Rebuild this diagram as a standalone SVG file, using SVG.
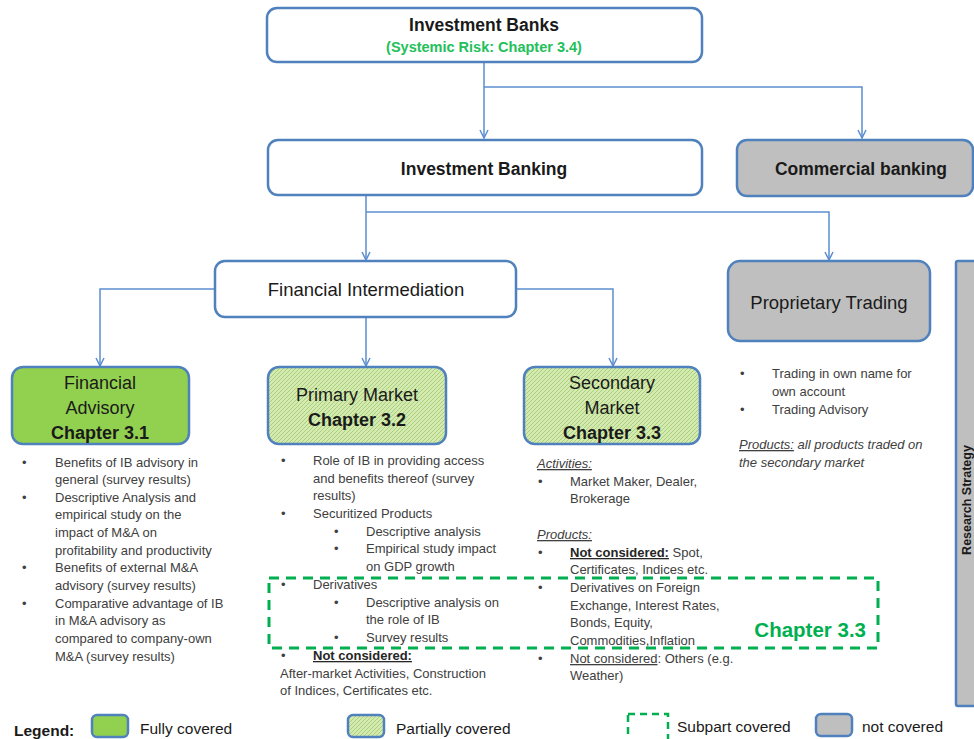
<svg xmlns="http://www.w3.org/2000/svg" width="974" height="739" viewBox="0 0 974 739">
<defs>
<pattern id="hatch" patternUnits="userSpaceOnUse" width="4" height="4">
<rect width="4" height="4" fill="#d4eab0"/>
<path d="M-1,1 L1,-1 M0,4 L4,0 M3,5 L5,3" stroke="#a8d07a" stroke-width="1"/>
</pattern>
<marker id="arr" markerWidth="10" markerHeight="10" refX="9" refY="5" orient="auto" markerUnits="userSpaceOnUse">
<path d="M1,1 L9,5 L1,9" fill="none" stroke="#5b8ed0" stroke-width="1.5"/>
</marker>
</defs>
<style>
.box{stroke:#4f81bd;stroke-width:2.5}
.w{fill:#fff}
.g{fill:#bfbfbf}
.full{fill:#92d050}
.part{fill:url(#hatch)}
.conn{fill:none;stroke:#5b8ed0;stroke-width:1.5}
.t{font-family:"Liberation Sans",Arial,sans-serif;fill:#1a1a1a;text-anchor:middle}
.b{font-weight:bold}
.bl{font-family:"Liberation Sans",Arial,sans-serif;font-size:13px;fill:#404040}
.dash{fill:none;stroke:#00b050;stroke-width:3;stroke-dasharray:10 7}
.lg{font-family:"Liberation Sans",Arial,sans-serif;font-size:15.5px;fill:#1a1a1a}
</style>
<g id="connectors">
<path class="conn" d="M484,62 V138" marker-end="url(#arr)"/>
<path class="conn" d="M484,87 H862 V138" marker-end="url(#arr)"/>
<path class="conn" d="M366,195 V260" marker-end="url(#arr)"/>
<path class="conn" d="M366,212 H829 V260" marker-end="url(#arr)"/>
<path class="conn" d="M215,289 H100 V366" marker-end="url(#arr)"/>
<path class="conn" d="M366,317 V366" marker-end="url(#arr)"/>
<path class="conn" d="M516,289 H613 V366" marker-end="url(#arr)"/>
</g>
<g id="investment-banks">
<rect class="box w" x="267" y="8" width="435" height="54" rx="10"/>
<text class="t b" x="484" y="31" font-size="17.5">Investment Banks</text>
<text class="t b" x="484" y="52" font-size="14.5" style="fill:#22c05a">(Systemic Risk: Chapter 3.4)</text>
</g>
<g id="investment-banking">
<rect class="box w" x="268" y="140" width="434" height="55" rx="10"/>
<text class="t b" x="484" y="175" font-size="17.5">Investment Banking</text>
</g>
<g id="commercial-banking">
<rect class="box g" x="737" y="140" width="236" height="56" rx="10"/>
<text class="t b" x="861" y="175" font-size="17.5">Commercial banking</text>
</g>
<g id="financial-intermediation">
<rect class="box w" x="215" y="261" width="301" height="56" rx="10"/>
<text class="t" x="366" y="296" font-size="18.5">Financial Intermediation</text>
</g>
<g id="proprietary-trading">
<rect class="box g" x="728" y="261" width="202" height="80" rx="12"/>
<text class="t" x="829" y="309" font-size="18.5">Proprietary Trading</text>
</g>
<g id="research-strategy">
<rect class="box g" x="956" y="261" width="40" height="445" rx="2"/>
<text class="t b" font-size="12.5" transform="translate(971,500) rotate(-90)">Research  Strategy</text>
</g>
<g id="financial-advisory">
<rect class="box full" x="12" y="367" width="177" height="77" rx="11"/>
<text class="t" x="100" y="389" font-size="18">Financial</text>
<text class="t" x="100" y="414" font-size="18">Advisory</text>
<text class="t b" x="100" y="439" font-size="18">Chapter 3.1</text>
</g>
<g id="primary-market">
<rect class="box part" x="268" y="367" width="178" height="77" rx="11"/>
<text class="t" x="357" y="401" font-size="18">Primary Market</text>
<text class="t b" x="357" y="426" font-size="18">Chapter 3.2</text>
</g>
<g id="secondary-market">
<rect class="box part" x="524" y="367" width="176" height="77" rx="11"/>
<text class="t" x="612" y="389" font-size="18">Secondary</text>
<text class="t" x="612" y="414" font-size="18">Market</text>
<text class="t b" x="612" y="439" font-size="18">Chapter 3.3</text>
</g>
<g id="subpart-box">
<rect class="dash" x="269" y="578" width="609" height="70"/>
<text x="866" y="637" font-family="Liberation Sans,Arial,sans-serif" font-size="20.5" font-weight="bold" fill="#00b050" text-anchor="end">Chapter 3.3</text>
</g>
<g id="fa-text" class="bl">
<text x="22" y="467">•</text><text x="55" y="467">Benefits of IB advisory in</text>
<text x="55" y="484">general (survey results)</text>
<text x="22" y="502">•</text><text x="55" y="502">Descriptive Analysis and</text>
<text x="55" y="519">empirical study on the</text>
<text x="55" y="537">impact of M&amp;A on</text>
<text x="55" y="555">profitability and productivity</text>
<text x="22" y="572">•</text><text x="55" y="572">Benefits of external M&amp;A</text>
<text x="55" y="590">advisory (survey results)</text>
<text x="22" y="608">•</text><text x="55" y="608">Comparative advantage of IB</text>
<text x="55" y="625">in M&amp;A advisory as</text>
<text x="55" y="643">compared to company-own</text>
<text x="55" y="661">M&amp;A (survey results)</text>
</g>
<g id="pm-text" class="bl">
<text x="281" y="465">•</text><text x="313" y="465">Role of IB in providing access</text>
<text x="313" y="483">and benefits thereof (survey</text>
<text x="313" y="500">results)</text>
<text x="281" y="518">•</text><text x="313" y="518">Securitized Products</text>
<text x="334" y="536">•</text><text x="366" y="536">Descriptive analysis</text>
<text x="334" y="553">•</text><text x="366" y="553">Empirical study impact</text>
<text x="366" y="571">on GDP growth</text>
<text x="281" y="589">•</text><text x="313" y="589">Derivatives</text>
<text x="334" y="607">•</text><text x="366" y="607">Descriptive analysis on</text>
<text x="366" y="624">the role of IB</text>
<text x="334" y="642">•</text><text x="366" y="642">Survey results</text>
<text x="281" y="660">•</text><text x="313" y="660" font-weight="bold" text-decoration="underline" fill="#262626">Not considered:</text>
<text x="280" y="678">After-market Activities, Construction</text>
<text x="280" y="695">of Indices, Certificates etc.</text>
</g>
<g id="sm-text" class="bl">
<text x="537" y="468" font-style="italic" text-decoration="underline">Activities:</text>
<text x="538" y="486">•</text><text x="570" y="486">Market Maker, Dealer,</text>
<text x="570" y="503">Brokerage</text>
<text x="537" y="539" font-style="italic" text-decoration="underline">Products:</text>
<text x="538" y="557">•</text><text x="570" y="557"><tspan font-weight="bold" text-decoration="underline" fill="#262626">Not considered:</tspan> Spot,</text>
<text x="570" y="574">Certificates, Indices etc.</text>
<text x="538" y="592">•</text><text x="570" y="592">Derivatives on Foreign</text>
<text x="570" y="610">Exchange, Interest Rates,</text>
<text x="570" y="627">Bonds, Equity,</text>
<text x="570" y="645">Commodities,Inflation</text>
<text x="538" y="663">•</text><text x="570" y="663"><tspan text-decoration="underline">Not considered</tspan>: Others (e.g.</text>
<text x="570" y="680">Weather)</text>
</g>
<g id="pt-text" class="bl">
<text x="740" y="378">•</text><text x="772" y="378">Trading in own name for</text>
<text x="772" y="396">own account</text>
<text x="740" y="414">•</text><text x="772" y="414">Trading Advisory</text>
<text x="739" y="449" font-style="italic"><tspan text-decoration="underline">Products:</tspan> all products traded on</text>
<text x="739" y="467" font-style="italic">the secondary market</text>
</g>
<g id="legend">
<text class="lg" x="14" y="736" font-weight="bold">Legend:</text>
<rect class="box full" x="92" y="715" width="36" height="22" rx="5"/>
<text class="lg" x="140" y="734">Fully covered</text>
<rect class="box part" x="348" y="715" width="36" height="22" rx="5"/>
<text class="lg" x="396" y="734">Partially covered</text>
<rect class="dash" x="628" y="714" width="40" height="30" style="stroke-width:2.5;stroke-dasharray:7 5"/>
<text class="lg" x="677" y="732">Subpart covered</text>
<rect class="box g" x="816" y="714" width="36" height="22" rx="5"/>
<text class="lg" x="862" y="732">not covered</text>
</g>
</svg>
